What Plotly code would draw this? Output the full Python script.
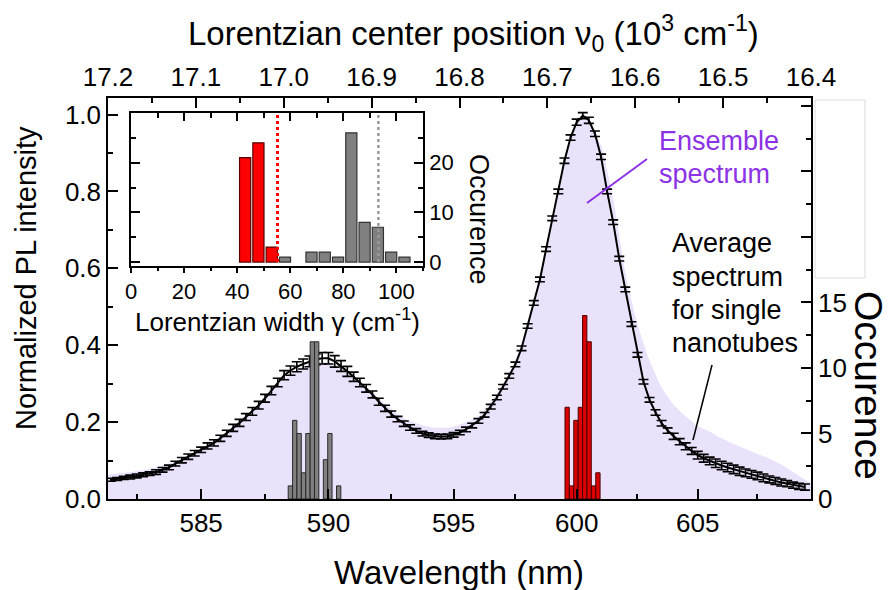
import plotly.graph_objects as go

# ---------------- data ----------------
# Average spectrum for single nanotubes (wavelength nm, normalized intensity, error)
wl_avg = [581.5, 581.75, 582.0, 582.25, 582.5, 582.75, 583.0, 583.25, 583.5, 583.75,
          584.0, 584.25, 584.5, 584.75, 585.0, 585.25, 585.5, 585.75, 586.0, 586.25,
          586.5, 586.75, 587.0, 587.25, 587.5, 587.75, 588.0, 588.25, 588.5, 588.75,
          589.0, 589.25, 589.5, 589.75, 590.0, 590.25, 590.5, 590.75, 591.0, 591.25,
          591.5, 591.75, 592.0, 592.25, 592.5, 592.75, 593.0, 593.25, 593.5, 593.75,
          594.0, 594.25, 594.5, 594.75, 595.0, 595.25, 595.5, 595.75, 596.0, 596.25,
          596.5, 596.75, 597.0, 597.25, 597.5, 597.75, 598.0, 598.25, 598.5, 598.75,
          599.0, 599.25, 599.5, 599.75, 600.0, 600.25, 600.5, 600.75, 601.0, 601.25,
          601.5, 601.75, 602.0, 602.25, 602.5, 602.75, 603.0, 603.25, 603.5, 603.75,
          604.0, 604.25, 604.5, 604.75, 605.0, 605.25, 605.5, 605.75, 606.0, 606.25,
          606.5, 606.75, 607.0, 607.25, 607.5, 607.75, 608.0, 608.25, 608.5, 608.75,
          609.0, 609.25, 609.5]
avg_int = [0.050, 0.052, 0.055, 0.057, 0.060, 0.063, 0.066, 0.070, 0.076, 0.082,
           0.092, 0.101, 0.110, 0.119, 0.128, 0.138, 0.146, 0.158, 0.171, 0.185,
           0.198, 0.213, 0.228, 0.244, 0.262, 0.282, 0.303, 0.322, 0.334, 0.344,
           0.351, 0.358, 0.363, 0.366, 0.366, 0.358, 0.346, 0.332, 0.318, 0.303,
           0.288, 0.272, 0.253, 0.236, 0.221, 0.208, 0.196, 0.186, 0.177, 0.170,
           0.166, 0.163, 0.162, 0.163, 0.167, 0.173, 0.181, 0.191, 0.203, 0.219,
           0.240, 0.264, 0.292, 0.320, 0.350, 0.392, 0.450, 0.510, 0.571, 0.650,
           0.730, 0.800, 0.880, 0.940, 0.980, 0.997, 0.985, 0.950, 0.890, 0.800,
           0.720, 0.625, 0.545, 0.455, 0.375, 0.305, 0.258, 0.225, 0.197, 0.178,
           0.163, 0.149, 0.137, 0.125, 0.114, 0.106, 0.099, 0.093, 0.087, 0.082,
           0.077, 0.072, 0.068, 0.064, 0.060, 0.055, 0.051, 0.047, 0.043, 0.040,
           0.036, 0.033, 0.031]
avg_err = [0.004, 0.004, 0.004, 0.005, 0.005, 0.005, 0.005, 0.006, 0.006, 0.006,
           0.006, 0.007, 0.007, 0.007, 0.007, 0.008, 0.008, 0.008, 0.008, 0.009,
           0.009, 0.009, 0.010, 0.010, 0.010, 0.011, 0.011, 0.012, 0.012, 0.013,
           0.013, 0.014, 0.014, 0.015, 0.015, 0.015, 0.014, 0.013, 0.012, 0.011,
           0.010, 0.009, 0.009, 0.008, 0.008, 0.007, 0.007, 0.007, 0.006, 0.006,
           0.006, 0.006, 0.006, 0.006, 0.006, 0.006, 0.006, 0.006, 0.006, 0.006,
           0.006, 0.006, 0.006, 0.006, 0.006, 0.006, 0.006, 0.006, 0.006, 0.006,
           0.006, 0.006, 0.007, 0.007, 0.008, 0.008, 0.008, 0.007, 0.007, 0.006,
           0.006, 0.006, 0.006, 0.006, 0.006, 0.006, 0.006, 0.007, 0.007, 0.007,
           0.008, 0.008, 0.009, 0.009, 0.010, 0.010, 0.010, 0.011, 0.011, 0.011,
           0.011, 0.011, 0.010, 0.010, 0.010, 0.010, 0.009, 0.009, 0.009, 0.008,
           0.008, 0.008, 0.008]

# Ensemble spectrum (wavelength nm, normalized intensity)
wl_ens = [581.4, 582.0, 583.0, 584.0, 585.0, 586.0, 587.0, 588.0, 589.0, 589.5,
          590.0, 590.5, 591.0, 592.0, 593.0, 594.0, 594.5, 595.0, 596.0, 597.0,
          597.5, 598.0, 598.5, 599.0, 599.5, 600.0, 600.3, 600.5, 601.0, 601.5,
          602.0, 602.5, 603.0, 603.5, 604.0, 604.5, 605.0, 605.5, 606.0, 606.5,
          607.0, 607.5, 608.0, 608.5, 609.0, 609.5, 609.76]
ens_int = [0.063, 0.068, 0.078, 0.098, 0.132, 0.175, 0.232, 0.300, 0.345, 0.355,
           0.355, 0.345, 0.320, 0.262, 0.210, 0.188, 0.185, 0.188, 0.215, 0.300,
           0.360, 0.455, 0.575, 0.730, 0.880, 0.975, 1.000, 0.990, 0.920, 0.780,
           0.590, 0.455, 0.360, 0.290, 0.245, 0.215, 0.190, 0.175, 0.158, 0.143,
           0.130, 0.117, 0.105, 0.090, 0.070, 0.050, 0.042]

# Histograms of Lorentzian center positions (10^3 cm^-1), 5 cm^-1 bins
gray_center = [16.9925, 16.9875, 16.9825, 16.9775, 16.9725, 16.9675, 16.9625,
               16.9525, 16.9475, 16.9375]
gray_count = [1, 6, 5, 2, 5, 12, 12, 3, 5, 1]
red_center = [16.6775, 16.6725, 16.6675, 16.6625, 16.6575, 16.6525, 16.6475, 16.6425]
red_count = [7, 1, 6, 7, 14, 12, 1, 2]

# Inset: histogram of Lorentzian widths (cm^-1)
inset_red_width = [43, 48, 53]
inset_red_count = [21, 24, 3]
inset_gray_width = [58, 68, 73, 78, 83, 88, 93, 98, 103]
inset_gray_count = [1, 2, 2, 1, 26, 8, 7, 2, 1]
mean_red_width = 55.2
mean_gray_width = 93.2

# Axis ticks
wl_ticks = [585, 590, 595, 600, 605]
wl_minor = [582.5, 587.5, 592.5, 597.5, 602.5, 607.5]


def to_kcm(wl):
    return [1e4 / w for w in wl]


FONT = "Liberation Sans, Arial, sans-serif"
BLACK = "black"

fig = go.Figure()

fig.add_trace(go.Scatter(
    x=to_kcm(wl_ens), y=ens_int, mode="lines",
    line=dict(width=0, shape="spline", smoothing=0.6),
    fill="tozeroy", fillcolor="rgb(234,225,250)",
    xaxis="x", yaxis="y", hoverinfo="skip"))

fig.add_trace(go.Scatter(
    x=to_kcm(wl_avg), y=avg_int, mode="lines",
    line=dict(color=BLACK, width=2),
    error_y=dict(type="data", array=avg_err, color=BLACK, thickness=1.6, width=5),
    xaxis="x", yaxis="y"))

fig.add_trace(go.Bar(
    x=gray_center, y=gray_count, width=0.0049,
    marker=dict(color="#808080", line=dict(color="#2a2a2a", width=1)),
    xaxis="x2", yaxis="y2"))
fig.add_trace(go.Bar(
    x=red_center, y=red_count, width=0.0049,
    marker=dict(color="#dd0000", line=dict(color="#4a0000", width=1)),
    xaxis="x2", yaxis="y2"))

fig.add_trace(go.Bar(
    x=inset_red_width, y=inset_red_count, width=4.2,
    marker=dict(color="#ff0000", line=dict(color="#5a0000", width=1.2)),
    xaxis="x3", yaxis="y3"))
fig.add_trace(go.Bar(
    x=inset_gray_width, y=inset_gray_count, width=4.2,
    marker=dict(color="#808080", line=dict(color="#333333", width=1.2)),
    xaxis="x3", yaxis="y3"))
fig.add_trace(go.Scatter(
    x=[50], y=[-5], mode="markers", marker=dict(opacity=0),
    xaxis="x4", yaxis="y3", hoverinfo="skip"))

common = dict(showgrid=False, zeroline=False, showline=True, linecolor=BLACK,
              linewidth=1.5, ticks="inside", tickcolor=BLACK, tickwidth=1.5,
              ticklen=10, automargin=False,
              tickfont=dict(size=26, color=BLACK, family=FONT))
minor_in = dict(ticks="inside", ticklen=5, tickwidth=1.5, tickcolor=BLACK)

inset_common = dict(showgrid=False, zeroline=False, showline=True, linecolor=BLACK,
                    linewidth=1.5, tickcolor=BLACK, tickwidth=1.5, automargin=False,
                    tickfont=dict(size=22, color=BLACK, family=FONT))

L, R, T, B = 108, 811, 98, 499
W, H = 889, 590
PW, PH = R - L, B - T


def px(x):
    return (x - L) / PW


def py(y):
    return (B - y) / PH


fig.update_layout(
    width=W, height=H,
    margin=dict(l=L, r=W - R, t=T, b=H - B, pad=0),
    template="none",
    paper_bgcolor="white", plot_bgcolor="white",
    showlegend=False, barmode="overlay",
    font=dict(family=FONT, color=BLACK),
    xaxis=dict(**common, range=[17.2, 16.4], domain=[0, 1], anchor="y",
               tickmode="array", tickvals=to_kcm(wl_ticks),
               ticktext=[str(w) for w in wl_ticks],
               minor=dict(**minor_in, tickmode="array", tickvals=to_kcm(wl_minor))),
    xaxis2=dict(**common, range=[17.2, 16.4], overlaying="x", side="top", anchor="y",
                tickmode="linear", tick0=16.4, dtick=0.1, tickformat=".1f",
                minor=dict(**minor_in, dtick=0.05)),
    yaxis=dict(**common, range=[0, 1.043], domain=[0, 1], anchor="x",
               tick0=0, dtick=0.2, tickformat=".1f",
               minor=dict(**minor_in, dtick=0.1)),
    yaxis2=dict(**common, range=[0, 30.6], overlaying="y", side="right", anchor="x",
                tickmode="array", tickvals=[0, 5, 10, 15, 20, 25, 30],
                ticktext=["0", "5", "10", "15", "", "", ""],
                minor=dict(**minor_in, tickmode="array",
                           tickvals=[2.5, 7.5, 12.5, 17.5, 22.5, 27.5])),
    xaxis3=dict(**inset_common, domain=[px(131), px(423)], anchor="y3",
                range=[0, 110], tickmode="array", tickvals=[0, 20, 40, 60, 80, 100],
                ticks="outside", ticklen=5,
                minor=dict(ticks="outside", ticklen=3, tickwidth=1.5, tickcolor=BLACK,
                           tickmode="array", tickvals=[10, 30, 50, 70, 90, 110])),
    xaxis4=dict(**inset_common, overlaying="x3", side="top", anchor="y3",
                range=[0, 110], tickmode="array", tickvals=[0, 20, 40, 60, 80, 100],
                ticks="inside", ticklen=8, showticklabels=False,
                minor=dict(ticks="inside", ticklen=5, tickwidth=1.5, tickcolor=BLACK,
                           tickmode="array", tickvals=[10, 30, 50, 70, 90, 110])),
    yaxis3=dict(**inset_common, domain=[py(266), py(113)], anchor="x3", side="right",
                range=[-0.8, 30], tickmode="array", tickvals=[0, 10, 20],
                ticks="inside", ticklen=9, mirror="ticks",
                minor=dict(ticks="inside", ticklen=5, tickwidth=1.5, tickcolor=BLACK,
                           tickmode="array", tickvals=[5, 15, 25])),
)

shapes = [
    dict(type="line", xref="x3", yref="y3", x0=mean_red_width, x1=mean_red_width,
         y0=0, y1=30, line=dict(color="#ff0000", width=3, dash="dot")),
    dict(type="line", xref="x3", yref="y3", x0=mean_gray_width, x1=mean_gray_width,
         y0=0, y1=30, line=dict(color="#9a9a9a", width=2.5, dash="dot")),
    dict(type="rect", xref="paper", yref="paper", x0=px(815), x1=px(865),
         y0=py(278), y1=py(100), line=dict(color="#dcdcdc", width=1),
         fillcolor="white", layer="above"),
    dict(type="line", xref="paper", yref="paper", x0=px(587), y0=py(203),
         x1=px(647), y1=py(159), line=dict(color="#8c32e6", width=2)),
    dict(type="line", xref="paper", yref="paper", x0=px(712), y0=py(365),
         x1=px(693), y1=py(440), line=dict(color=BLACK, width=1.5)),
]


def ann(text, x, y, size, angle=0, color=BLACK, xanchor="center"):
    return dict(text=text, xref="paper", yref="paper", x=x, y=y, showarrow=False,
                textangle=angle, xanchor=xanchor, yanchor="middle",
                font=dict(size=size, color=color, family=FONT))


annotations = [
    ann("Wavelength (nm)", px(459), py(572), 33),
    ann("Normalized PL intensity", px(26), py(278), 29, angle=-90),
    ann("Occurence", px(869), py(385), 39, angle=90),
    ann("Lorentzian center position \u03bd<sub>0</sub> (10<sup>3</sup> cm<sup>-1</sup>)",
        px(473), py(33), 33),
    ann("Lorentzian width \u03b3 (cm<sup>-1</sup>)", px(277), py(320), 26),
    ann("Occurence", px(479), py(219), 27, angle=90),
    ann("Ensemble", px(657), py(141), 27, color="#8c32e6", xanchor="left"),
    ann("spectrum", px(657), py(174), 27, color="#8c32e6", xanchor="left"),
    ann("Average", px(670), py(243), 27, xanchor="left"),
    ann("spectrum", px(670), py(277), 27, xanchor="left"),
    ann("for single", px(670), py(310), 27, xanchor="left"),
    ann("nanotubes", px(670), py(343), 27, xanchor="left"),
]

fig.update_layout(shapes=shapes, annotations=annotations)

fig.write_html("out.html")
